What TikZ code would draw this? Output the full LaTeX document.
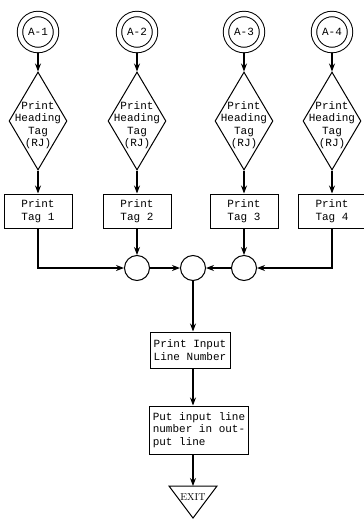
\documentclass[tikz,border=0pt]{standalone}
\usepackage{fontspec}
\setmonofont{Liberation Mono}
\usetikzlibrary{arrows.meta,shapes.geometric}

\begin{document}
\begin{tikzpicture}[x=1pt, y=-1pt,
  flow/.style={-{Stealth[length=8pt,width=6pt]}, line width=1.2pt},
  typed/.style={font=\ttfamily\fontsize{11}{12.5}\selectfont},
  entry/.style={circle, draw, double, double distance=4.4pt, line width=1pt,
    minimum size=36pt, inner sep=0pt, outer sep=3.3pt, typed},
  tagdiamond/.style={diamond, draw, line width=1pt, minimum width=58pt,
    minimum height=98pt, inner sep=0pt},
  tagbox/.style={rectangle, draw, line width=1pt, minimum width=68pt,
    minimum height=34pt, align=center, typed},
  junction/.style={circle, draw, line width=1pt, minimum size=25pt, inner sep=0pt}]
\useasboundingbox (0,0) rectangle (364,528);
% Four entry points with heading tags
\foreach \n/\x in {1/38,2/137,3/244,4/332}{
  \node[entry] (a\n) at (\x,32) {A-\n};
  \node[tagdiamond] (d\n) at (\x,121) {};
  \node[typed, align=center] (t\n) at (\x,125) {Print\\Heading\\Tag\\(RJ)};
  \node[tagbox] (b\n) at (\x,211) {Print\\Tag \n};
  \draw[flow] (a\n.south) -- (d\n.north);
  \draw[flow] (d\n.south) -- (b\n.north);
}
% Joining circles
\node[junction] (j1) at (137,268) {};
\node[junction] (j2) at (193,268) {};
\node[junction] (j3) at (244,268) {};
\draw[flow] (b1.south) |- (j1.west);
\draw[flow] (b2.south) -- (j1.north);
\draw[flow] (b3.south) -- (j3.north);
\draw[flow] (b4.south) |- (j3.east);
\draw[flow] (j1.east) -- (j2.west);
\draw[flow] (j3.west) -- (j2.east);
% Line number
\node[tagbox, minimum width=80pt, minimum height=36pt] (ln) at (190,350) {Print Input\\Line Number};
\node[tagbox, minimum width=96pt, minimum height=48pt, align=left] (put) at (199,430) {Put input line\\number in out-\\put line};
\draw[flow] (j2.south) -- (j2.south |- ln.north);
\draw[flow] (ln.south -| j2) -- (put.north -| j2);
% Exit
\coordinate (ex) at (193,486);
\draw[flow] (put.south -| j2) -- (ex);
\draw[line width=1pt] (ex) -- ++(-24,0) -- ++(24,32) -- ++(24,-32) -- cycle;
\node[font=\fontsize{10}{12}\selectfont] (exit) at (193,497) {EXIT};
\end{tikzpicture}
\end{document}
